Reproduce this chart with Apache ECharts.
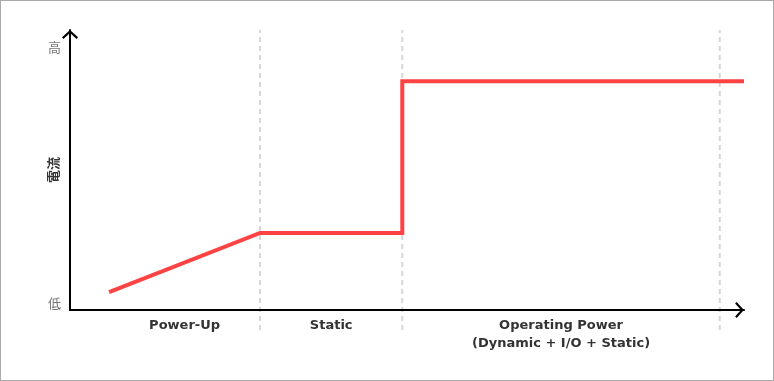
<!DOCTYPE html>
<html>
<head>
<meta charset="utf-8">
<script src="https://cdn.jsdelivr.net/npm/echarts@6/dist/echarts.min.js"></script>
<style>
html,body{margin:0;padding:0;background:#fff;}
#wrap{position:relative;width:774px;height:381px;}
#chart{width:774px;height:381px;}
#frame{position:absolute;left:0;top:0;width:774px;height:381px;box-sizing:border-box;border:1px solid #aaa;pointer-events:none;}
</style>
</head>
<body>
<div id="wrap"><div id="chart"></div><div id="frame"></div></div>
<script>
// Data (x in relative time units 0..100, y in relative current units 0..100)
const currentX = [5.8, 28.2, 49.3, 49.3, 100];
const currentY = [6.4, 27.5, 27.5, 81.7, 81.7];
const phaseBoundaries = [28.2, 49.3, 96.4];
const phaseLabelPos = [17.0, 38.75, 72.85];
const phaseLabels = ['Power-Up', 'Static', 'Operating Power\n(Dynamic + I/O + Static)'];
const yTickValues = [2.5, 93.9];
const yTickLabels = ['低', '高'];
const yAxisName = '電流';

const arrowPath = 'path://M8,0 L16,7.2 L14.6,8.8 L8,2.9 L1.4,8.8 L0,7.2 Z';

const chart = echarts.init(document.getElementById('chart'), null, {renderer: 'canvas'});

const boundarySeries = phaseBoundaries.map(function (b) {
  return {
    type: 'line',
    xAxisIndex: 1,
    yAxisIndex: 1,
    data: [[b, 0], [b, 1]],
    symbol: 'none',
    silent: true,
    z: 1,
    lineStyle: {color: '#d6d6d6', width: 2, type: [5, 4]},
    animation: false
  };
});

chart.setOption({
  animation: false,
  backgroundColor: '#fff',
  grid: [
    {left: 70, top: 30, width: 674, height: 280, containLabel: false},
    {left: 70, top: 30, width: 674, height: 300, containLabel: false}
  ],
  xAxis: [
    {
      type: 'value', gridIndex: 0, min: 0, max: 100, z: 5,
      axisLine: {show: true, lineStyle: {color: '#000', width: 2},
        symbol: ['none', arrowPath], symbolSize: [16, 9], symbolOffset: [0, -4.5]},
      axisTick: {show: false},
      splitLine: {show: false},
      axisLabel: {
        customValues: phaseLabelPos,
        formatter: function (v) { return phaseLabels[phaseLabelPos.indexOf(v)]; },
        color: '#333', fontSize: 13, fontWeight: 'bold', fontFamily: 'DejaVu Sans',
        lineHeight: 18, margin: 7, align: 'center', verticalAlign: 'top'
      }
    },
    {type: 'value', gridIndex: 1, min: 0, max: 100, show: false}
  ],
  yAxis: [
    {
      type: 'value', gridIndex: 0, min: 0, max: 100, z: 5,
      name: yAxisName, nameLocation: 'middle', nameRotate: 90, nameGap: 10,
      nameMoveOverlap: false,
      nameTextStyle: {color: '#333', fontSize: 13, fontWeight: 'bold', fontFamily: 'Noto Sans CJK JP'},
      axisLine: {show: true, lineStyle: {color: '#000', width: 2},
        symbol: ['none', arrowPath], symbolSize: [16, 9], symbolOffset: [0, -4.5]},
      axisTick: {show: false},
      splitLine: {show: false},
      axisLabel: {show: false}
    },
    {type: 'value', gridIndex: 1, min: 0, max: 1, show: false}
  ],
  series: boundarySeries.concat([{
    type: 'line',
    xAxisIndex: 0,
    yAxisIndex: 0,
    data: currentX.map(function (x, i) { return [x, currentY[i]]; }),
    symbol: 'none',
    clip: false,
    z: 4,
    lineStyle: {color: '#ff4343', width: 4, cap: 'butt', join: 'miter'}
  }, {
    type: 'scatter',
    xAxisIndex: 0,
    yAxisIndex: 0,
    data: yTickValues.map(function (v, i) { return {value: [0, v], name: yTickLabels[i]}; }),
    symbolSize: 0,
    silent: true,
    clip: false,
    label: {
      show: true, position: 'left', distance: 9, formatter: '{b}',
      color: '#555', fontSize: 13, fontFamily: 'Noto Sans CJK JP'
    }
  }])
});
</script>
</body>
</html>
